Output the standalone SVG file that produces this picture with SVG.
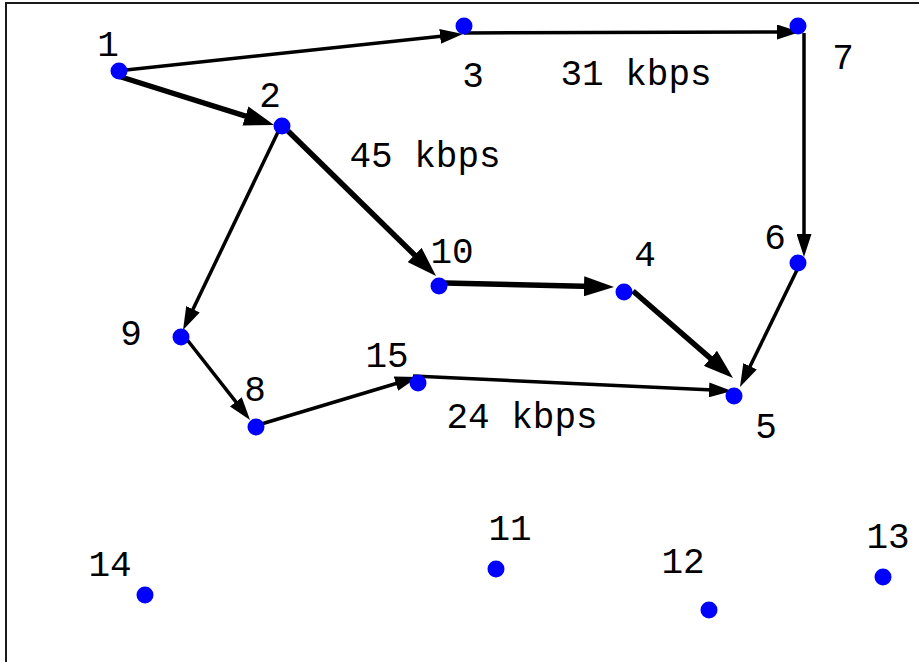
<svg xmlns="http://www.w3.org/2000/svg" width="919" height="662" viewBox="0 0 919 662">
  <style>
    .frame { fill: none; stroke: #1a1a1a; stroke-width: 2; }
    .node circle { fill: #0000ff; }
    .lbl { font-family: "Liberation Mono", "Courier New", monospace; font-size: 36px; fill: #000; text-anchor: middle; }
    .edge { fill: none; stroke: #000; stroke-linecap: butt; }
    .thin { stroke-width: 3.5; marker-end: url(#arrowThin); }
    .thick { stroke-width: 5.5; marker-end: url(#arrowThick); }
  </style>
  <defs>
    <marker id="arrowThin" markerUnits="userSpaceOnUse" markerWidth="23" markerHeight="15" refX="15" refY="7.5" orient="auto">
      <path d="M0,0 L23,7.5 L0,15 z" fill="#000"/>
    </marker>
    <marker id="arrowThick" markerUnits="userSpaceOnUse" markerWidth="30" markerHeight="20" refX="20" refY="10" orient="auto">
      <path d="M0,0 L30,10 L0,20 z" fill="#000"/>
    </marker>
  </defs>

  <rect width="919" height="662" fill="#fff"/>
  <rect class="frame" x="6" y="3" width="940" height="700"/>

  <!-- links -->
  <g id="connectors">
    <path class="edge thin" d="M126,70 L455,34.8"/>
    <path class="edge thin" d="M464,33 L792,32"/>
    <path class="edge thin" d="M804,33 L804,249"/>
    <path class="edge thin" d="M797,270 L743.5,379.8"/>
    <path class="edge thin" d="M278,132 L186.5,322.8"/>
    <path class="edge thin" d="M185,337 L245.1,413.7"/>
    <path class="edge thin" d="M258,425 L410.3,379.3"/>
    <path class="edge thin" d="M413,376 L724,390.6"/>
    <path class="edge thick" d="M118,76 L264.5,122"/>
    <path class="edge thick" d="M288,131 L428.9,269"/>
    <path class="edge thick" d="M445,283 L604,286.8"/>
    <path class="edge thick" d="M633,291 L725.5,371.4"/>
  </g>

  <!-- rate labels -->
  <g id="rates">
    <text class="lbl" x="636" y="85">31 kbps</text>
    <text class="lbl" x="425" y="167">45 kbps</text>
    <text class="lbl" x="522" y="428">24 kbps</text>
  </g>

  <!-- nodes -->
  <g id="n1" class="node"><circle cx="119" cy="71" r="8.5"/><text class="lbl" x="108" y="56">1</text></g>
  <g id="n2" class="node"><circle cx="282" cy="126" r="8.5"/><text class="lbl" x="270" y="107">2</text></g>
  <g id="n3" class="node"><circle cx="464" cy="26" r="8.5"/><text class="lbl" x="473" y="87">3</text></g>
  <g id="n4" class="node"><circle cx="624" cy="292" r="8.5"/><text class="lbl" x="645" y="266">4</text></g>
  <g id="n5" class="node"><circle cx="734" cy="396" r="8.5"/><text class="lbl" x="766" y="438">5</text></g>
  <g id="n6" class="node"><circle cx="798" cy="263" r="8.5"/><text class="lbl" x="775" y="249">6</text></g>
  <g id="n7" class="node"><circle cx="798" cy="26" r="8.5"/><text class="lbl" x="843" y="69">7</text></g>
  <g id="n8" class="node"><circle cx="256" cy="427" r="8.5"/><text class="lbl" x="255" y="401">8</text></g>
  <g id="n9" class="node"><circle cx="181" cy="337" r="8.5"/><text class="lbl" x="131" y="345">9</text></g>
  <g id="n10" class="node"><circle cx="439" cy="286" r="8.5"/><text class="lbl" x="452" y="263">10</text></g>
  <g id="n11" class="node"><circle cx="496" cy="569" r="8.5"/><text class="lbl" x="510" y="540">11</text></g>
  <g id="n12" class="node"><circle cx="709" cy="610" r="8.5"/><text class="lbl" x="683" y="573">12</text></g>
  <g id="n13" class="node"><circle cx="883" cy="577" r="8.5"/><text class="lbl" x="888" y="548">13</text></g>
  <g id="n14" class="node"><circle cx="145" cy="595" r="8.5"/><text class="lbl" x="110" y="576">14</text></g>
  <g id="n15" class="node"><circle cx="418" cy="383" r="8.5"/><text class="lbl" x="387" y="367">15</text></g>
</svg>
